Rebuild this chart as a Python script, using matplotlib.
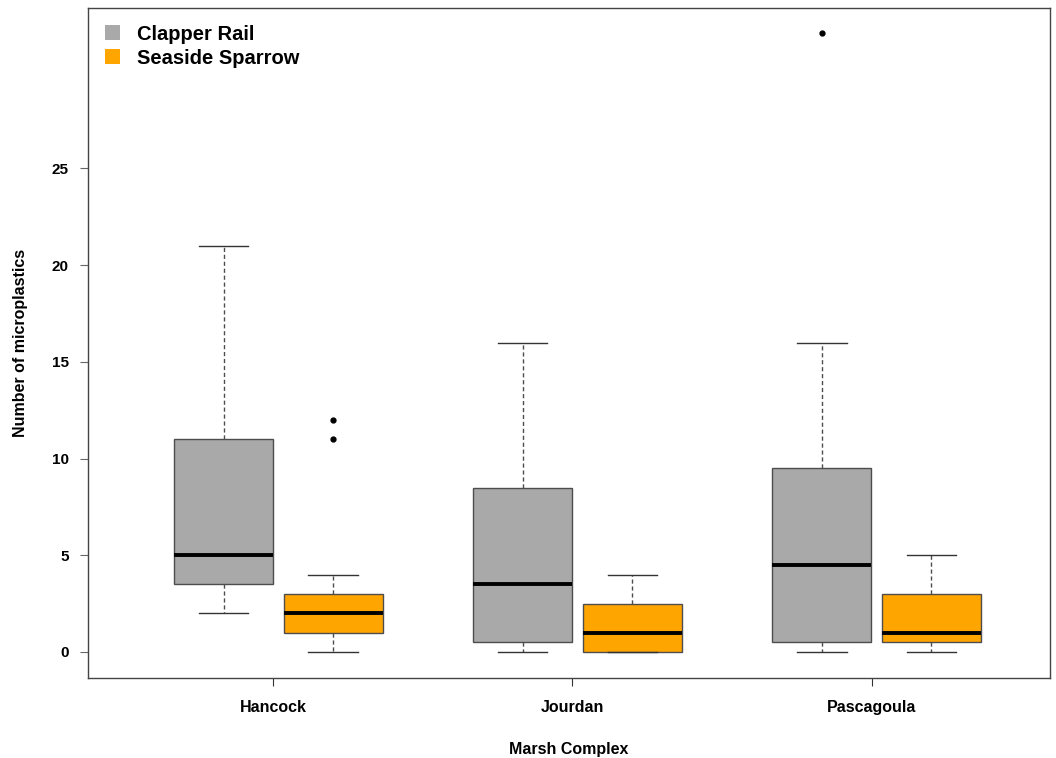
import matplotlib
matplotlib.use("Agg")
import matplotlib.pyplot as plt
from matplotlib.patches import Patch

# ---- Data ----
sites = ['Hancock', 'Jourdan', 'Pascagoula']
species = ['Clapper Rail', 'Seaside Sparrow']
colors = ['#A9A9A9', '#FFA500']

# five-number summaries per site: [whislo, q1, med, q3, whishi]
rail_stats = [[2, 3.5, 5, 11, 21],
              [0, 0.5, 3.5, 8.5, 16],
              [0, 0.5, 4.5, 9.5, 16]]
sparrow_stats = [[0, 1, 2, 3, 4],
                 [0, 0, 1, 2.5, 4],
                 [0, 0.5, 1, 3, 5]]
rail_outliers = [[], [], [32]]
sparrow_outliers = [[11, 12], [], []]

plt.rcParams['font.family'] = ['Liberation Sans', 'DejaVu Sans']

fig = plt.figure(figsize=(10.56, 7.58), dpi=100)
ax = fig.add_axes([88 / 1056, 1 - 678 / 758, (1050 - 88) / 1056, (678 - 8) / 758])


def make_stats(summaries, outliers):
    out = []
    for s, fl in zip(summaries, outliers):
        out.append(dict(whislo=s[0], q1=s[1], med=s[2], q3=s[3], whishi=s[4], fliers=fl))
    return out


group_pos = [1.5, 4.5, 7.5]
offsets = [-0.5, 0.6]
width = 0.995

for k, (summ, outl) in enumerate([(rail_stats, rail_outliers), (sparrow_stats, sparrow_outliers)]):
    pos = [g + offsets[k] for g in group_pos]
    ax.bxp(make_stats(summ, outl), positions=pos, widths=width, patch_artist=True,
           boxprops=dict(facecolor=colors[k], edgecolor='#4d4d4d', linewidth=1.0),
           medianprops=dict(color='black', linewidth=2.8),
           whiskerprops=dict(color='#4d4d4d', linestyle=(0, (3, 2)), linewidth=1.0),
           capprops=dict(color='#333333', linewidth=1.0),
           capwidths=width / 2,
           flierprops=dict(marker='o', markersize=3.5, markerfacecolor='black',
                           markeredgecolor='black'))

ax.set_xlim(-0.36, 9.29)
ax.set_ylim(-1.35, 33.3)
ax.set_xticks(group_pos)
ax.set_xticklabels(sites, fontsize=11.5, fontweight='bold')
ax.set_yticks([0, 5, 10, 15, 20, 25])
ax.set_yticklabels(['0', '5', '10', '15', '20', '25'], fontsize=11, fontweight='bold')
ax.tick_params(axis='x', length=6, pad=10, color='#333333')
ax.tick_params(axis='y', length=6, pad=8, color='#666666')
ax.set_xlabel('Marsh Complex', fontsize=11.5, fontweight='bold', labelpad=19)
ax.set_ylabel('Number of microplastics', fontsize=11.5, fontweight='bold', labelpad=17)
for sp in ax.spines.values():
    sp.set_color('#444444')
    sp.set_linewidth(1.0)

handles = [Patch(facecolor=c, edgecolor='none') for c in colors]
ax.legend(handles, species, loc='upper left', frameon=False,
          bbox_to_anchor=(-0.001, 1.002),
          prop=dict(weight='bold', size=14.5), handlelength=0.75, handleheight=0.75,
          borderaxespad=0.5, handletextpad=0.85, labelspacing=0.25)

fig.savefig('out.png', dpi=100)
